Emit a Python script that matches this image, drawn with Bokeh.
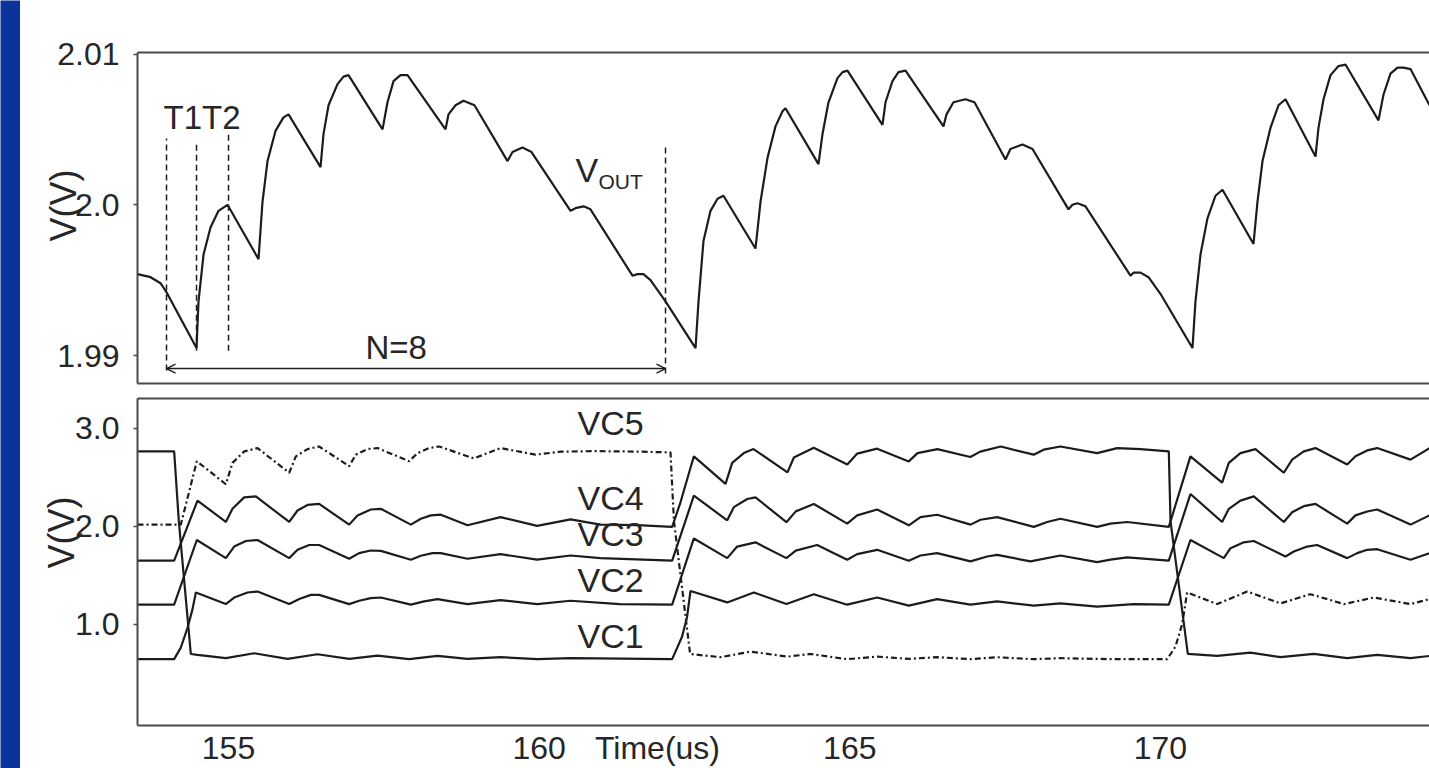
from bokeh.plotting import figure
from bokeh.models import Range1d, FixedTicker, LinearAxis, Label, Arrow, OpenHead, Title
from bokeh.layouts import row, column
from bokeh.embed import file_html
from bokeh.resources import INLINE

# ---------------- data ----------------
# output voltage (time in us, volts)
vout = [
    (153.535, 1.9954), (153.745, 1.9952), (153.906, 1.9948), (154.002, 1.9942), (154.485, 1.9905),
    (154.517, 1.9936), (154.598, 1.9967), (154.710, 1.9985), (154.839, 1.9996), (154.984, 2.0000),
    (155.483, 1.9964), (155.547, 2.0002), (155.628, 2.0029), (155.756, 2.0049), (155.885, 2.0058),
    (155.966, 2.0060), (156.481, 2.0025), (156.529, 2.0047), (156.610, 2.0066), (156.754, 2.0080),
    (156.851, 2.0085), (156.931, 2.0086), (157.479, 2.0050), (157.559, 2.0068), (157.656, 2.0082),
    (157.768, 2.0086), (157.881, 2.0086), (158.493, 2.0050), (158.541, 2.0060), (158.654, 2.0066),
    (158.782, 2.0069), (158.959, 2.0066), (159.491, 2.0029), (159.571, 2.0035), (159.732, 2.0038),
    (159.877, 2.0035), (160.505, 1.9996), (160.601, 1.9998), (160.714, 1.9999), (160.826, 1.9997),
    (161.502, 1.9953), (161.583, 1.9954), (161.679, 1.9954), (161.792, 1.9950), (162.034, 1.9936),
    (162.517, 1.9905), (162.565, 1.9936), (162.645, 1.9976), (162.758, 1.9996), (162.871, 2.0004),
    (162.967, 2.0006), (163.482, 1.9971), (163.563, 2.0002), (163.675, 2.0031), (163.804, 2.0052),
    (163.917, 2.0062), (163.965, 2.0064), (164.496, 2.0027), (164.561, 2.0047), (164.657, 2.0068),
    (164.802, 2.0084), (164.883, 2.0088), (164.963, 2.0089), (165.526, 2.0053), (165.575, 2.0068),
    (165.687, 2.0082), (165.784, 2.0088), (165.897, 2.0089), (166.508, 2.0052), (166.557, 2.0060),
    (166.669, 2.0068), (166.862, 2.0070), (167.007, 2.0068), (167.506, 2.0030), (167.586, 2.0037),
    (167.780, 2.0040), (167.941, 2.0037), (168.520, 1.9997), (168.584, 2.0000), (168.665, 2.0001),
    (168.794, 1.9999), (169.518, 1.9953), (169.566, 1.9955), (169.679, 1.9955), (169.808, 1.9952),
    (170.000, 1.9941), (170.516, 1.9905), (170.564, 1.9936), (170.645, 1.9967), (170.757, 1.9991),
    (170.886, 2.0006), (170.999, 2.0010), (171.498, 1.9974), (171.562, 2.0002), (171.643, 2.0029),
    (171.771, 2.0051), (171.900, 2.0066), (172.013, 2.0070), (172.496, 2.0032), (172.544, 2.0051),
    (172.625, 2.0070), (172.738, 2.0086), (172.866, 2.0092), (172.978, 2.0093), (173.510, 2.0056),
    (173.590, 2.0073), (173.703, 2.0087), (173.816, 2.0091), (173.912, 2.0091), (174.025, 2.0090),
    (174.331, 2.0066),
]

# capacitor voltages: each trace follows one capacitor through the rotations
cap_a = [  # dashed: VC4 -> VC5 -> VC1 -> VC2
    (153.535, 2.015), (154.232, 2.015), (154.490, 2.662),
    (154.957, 2.427), (155.064, 2.645), (155.252, 2.762), (155.467, 2.796), (155.977, 2.544),
    (156.084, 2.712), (156.272, 2.786), (156.459, 2.812), (156.942, 2.611), (157.049, 2.729),
    (157.237, 2.786), (157.398, 2.796), (157.908, 2.662), (158.042, 2.745), (158.230, 2.796),
    (158.391, 2.812), (158.950, 2.690), (159.378, 2.796), (159.941, 2.729), (160.344, 2.759),
    (160.880, 2.765), (161.578, 2.760), (162.114, 2.752),
    (162.170, 2.050), (162.430, 0.695),
    (162.919, 0.662), (163.402, 0.719), (164.000, 0.668), (164.367, 0.695), (164.958, 0.642),
    (165.441, 0.668), (165.950, 0.645), (166.407, 0.662), (166.943, 0.642), (167.372, 0.662),
    (167.962, 0.642), (168.391, 0.652), (169.196, 0.642), (170.108, 0.642),
    (170.242, 0.770), (170.350, 1.000), (170.430, 1.322),
    (170.913, 1.204), (171.396, 1.332), (171.932, 1.211), (172.416, 1.305), (172.952, 1.204),
    (173.435, 1.271), (174.025, 1.204), (174.331, 1.255),
]
cap_b = [  # VC5 -> VC1 -> VC2 -> VC3
    (153.535, 2.762), (154.125, 2.762), (154.200, 2.050), (154.393, 0.695),
    (154.501, 0.685), (154.957, 0.652), (155.413, 0.702), (155.950, 0.645), (156.432, 0.692),
    (156.942, 0.645), (157.398, 0.678), (157.908, 0.642), (158.364, 0.675), (158.847, 0.645),
    (159.378, 0.662), (159.968, 0.642), (160.505, 0.652), (162.141, 0.642),
    (162.300, 0.870), (162.380, 1.070), (162.436, 1.338),
    (163.027, 1.221), (163.456, 1.322), (163.980, 1.204), (164.421, 1.305), (164.958, 1.198),
    (165.441, 1.271), (165.950, 1.188), (166.407, 1.255), (166.943, 1.198), (167.372, 1.231),
    (167.962, 1.188), (168.391, 1.211), (168.982, 1.178), (169.572, 1.204), (170.135, 1.198),
    (170.483, 1.858),
    (171.020, 1.673), (171.128, 1.774), (171.342, 1.834), (171.503, 1.848), (172.013, 1.690),
    (172.147, 1.740), (172.362, 1.791), (172.523, 1.807), (173.006, 1.673), (173.167, 1.724),
    (173.328, 1.758), (173.489, 1.764), (174.025, 1.657), (174.331, 1.724),
]
cap_c = [  # VC1 -> VC2 -> VC3 -> VC4
    (153.535, 0.642), (154.125, 0.642), (154.232, 0.760), (154.339, 0.960), (154.420, 1.150),
    (154.474, 1.322),
    (154.957, 1.204), (155.091, 1.271), (155.306, 1.322), (155.467, 1.332), (155.977, 1.204),
    (156.138, 1.255), (156.325, 1.298), (156.459, 1.298), (156.942, 1.204), (157.103, 1.238),
    (157.290, 1.265), (157.452, 1.271), (157.935, 1.198), (158.149, 1.231), (158.364, 1.255),
    (158.847, 1.204), (159.378, 1.245), (159.968, 1.204), (160.505, 1.238), (161.300, 1.204),
    (162.141, 1.198),
    (162.490, 1.874),
    (163.027, 1.673), (163.188, 1.791), (163.482, 1.834), (163.980, 1.673), (164.130, 1.750),
    (164.475, 1.807), (164.958, 1.657), (165.119, 1.714), (165.441, 1.758), (165.950, 1.647),
    (166.138, 1.700), (166.407, 1.724), (166.943, 1.640), (167.211, 1.690), (167.372, 1.707),
    (167.908, 1.640), (168.391, 1.700), (168.982, 1.633), (169.196, 1.657), (169.465, 1.680),
    (170.135, 1.647),
    (170.483, 2.327),
    (170.993, 2.042), (171.101, 2.176), (171.288, 2.260), (171.503, 2.303), (171.986, 2.042),
    (172.120, 2.142), (172.308, 2.203), (172.496, 2.226), (173.006, 2.025), (173.140, 2.109),
    (173.328, 2.149), (173.489, 2.169), (174.025, 2.015), (174.331, 2.109),
]
cap_d = [  # VC2 -> VC3 -> VC4 -> VC5
    (153.535, 1.198), (154.125, 1.198), (154.490, 1.858),
    (154.957, 1.673), (155.091, 1.791), (155.279, 1.848), (155.467, 1.858), (155.977, 1.673),
    (156.111, 1.758), (156.298, 1.807), (156.459, 1.807), (156.942, 1.667), (157.103, 1.724),
    (157.290, 1.751), (157.452, 1.747), (157.935, 1.657), (158.096, 1.697), (158.283, 1.724),
    (158.417, 1.724), (158.847, 1.667), (159.378, 1.714), (159.968, 1.657), (160.505, 1.700),
    (160.987, 1.673), (162.141, 1.647),
    (162.490, 2.310),
    (163.027, 2.059), (163.134, 2.193), (163.349, 2.276), (163.482, 2.293), (163.980, 2.040),
    (164.130, 2.150), (164.421, 2.226), (164.958, 2.025), (165.119, 2.109), (165.441, 2.169),
    (165.950, 2.008), (166.138, 2.092), (166.407, 2.116), (166.943, 2.015), (167.104, 2.065),
    (167.372, 2.092), (167.962, 1.992), (168.177, 2.042), (168.391, 2.075), (168.982, 1.992),
    (169.196, 2.025), (169.465, 2.042), (170.135, 1.992),
    (170.483, 2.712),
    (170.993, 2.444), (171.101, 2.645), (171.288, 2.745), (171.530, 2.786), (171.986, 2.544),
    (172.120, 2.678), (172.308, 2.762), (172.496, 2.796), (173.006, 2.628), (173.140, 2.712),
    (173.328, 2.772), (173.489, 2.796), (174.025, 2.678), (174.331, 2.796),
]
cap_e = [  # VC3 -> VC4 -> VC5 -> VC1
    (153.535, 1.647), (154.125, 1.647), (154.501, 2.260),
    (154.957, 2.042), (155.064, 2.176), (155.252, 2.293), (155.440, 2.303), (155.977, 2.042),
    (156.111, 2.159), (156.272, 2.216), (156.459, 2.226), (156.942, 2.015), (157.076, 2.109),
    (157.290, 2.169), (157.452, 2.176), (157.935, 2.015), (158.096, 2.075), (158.257, 2.109),
    (158.417, 2.116), (158.847, 2.008), (159.378, 2.092), (159.968, 2.002), (160.505, 2.069),
    (160.987, 2.015), (161.578, 2.010), (162.141, 1.992),
    (162.275, 2.243), (162.490, 2.712),
    (163.000, 2.430), (163.107, 2.645), (163.295, 2.745), (163.450, 2.786), (163.997, 2.548),
    (164.100, 2.700), (164.420, 2.799), (164.960, 2.628), (165.120, 2.740), (165.440, 2.790),
    (165.950, 2.660), (166.090, 2.745), (166.410, 2.786), (166.940, 2.705), (167.100, 2.760),
    (167.430, 2.812), (167.960, 2.729), (168.120, 2.780), (168.390, 2.812), (168.980, 2.745),
    (169.304, 2.796), (169.679, 2.786), (170.135, 2.762),
    (170.162, 2.050), (170.441, 0.695),
    (170.913, 0.675), (171.449, 0.709), (171.932, 0.662), (172.469, 0.695), (173.006, 0.652),
    (173.489, 0.685), (174.025, 0.652), (174.331, 0.675),
]

# vertical dashed markers (T1, T2 and cycle bounds) in the top panel
marker_t = [154.002, 154.485, 155.000, 162.034]
marker_top = [2.00439, 2.00419, 2.00465, 2.00386]
marker_bot = [1.98901, 1.99033, 1.99033, 1.98881]
span_t = [154.002, 162.034]   # N=8 arrow
span_v = 1.98914

time_ticks = [155, 160, 161.905, 165, 170]
time_labels = ["155", "160", "Time(us)", "165", "170"]
vout_ticks = [1.99, 2.0, 2.01]
vout_labels = ["1.99", "2.0", "2.01"]
vc_ticks = [1.0, 2.0, 3.0]
vc_labels = ["1.0", "2.0", "3.0"]

vc_names = ["VC5", "VC4", "VC3", "VC2", "VC1"]
vc_name_y = [2.859, 2.095, 1.724, 1.251, 0.688]

# ---------------- style ----------------
FONT = "Liberation Sans"
INK = "#1c1c1c"
TXT = "#262626"
FRAME = "#4a4a4a"
BLUE = "#0b349b"
X0, X1 = 153.535, 174.331


def unzip(pairs):
    return [p[0] for p in pairs], [p[1] for p in pairs]


def bare_axis(ax):
    ax.ticker = FixedTicker(ticks=[])
    ax.axis_line_color = FRAME
    ax.axis_line_width = 2
    ax.major_tick_in = 0
    ax.major_tick_out = 0
    ax.minor_tick_line_color = None
    ax.major_tick_line_color = None
    ax.major_label_standoff = 0


def style_panel(p, yticks, ylabels, show_x, title_standoff, title_offset):
    p.grid.visible = False
    p.outline_line_color = None
    yax = p.yaxis[0]
    yax.axis_line_color = FRAME
    yax.axis_line_width = 2
    yax.minor_tick_line_color = None
    yax.major_tick_line_color = FRAME
    yax.major_tick_line_width = 1.5
    yax.major_label_text_font = FONT
    yax.major_label_text_color = TXT
    yax.major_label_text_font_size = "32px"
    yax.ticker = FixedTicker(ticks=yticks)
    yax.major_label_overrides = {t: l for t, l in zip(yticks, ylabels)}
    yax.major_tick_out = 4
    yax.major_tick_in = 0
    yax.major_label_standoff = 14
    xax = p.xaxis[0]
    if show_x:
        xax.ticker = FixedTicker(ticks=time_ticks)
        xax.major_label_overrides = {t: l for t, l in zip(time_ticks, time_labels)}
        xax.axis_line_color = FRAME
        xax.axis_line_width = 2
        xax.minor_tick_line_color = None
        xax.major_tick_line_color = None
        xax.major_tick_out = 0
        xax.major_tick_in = 0
        xax.major_label_standoff = 4
        xax.major_label_text_font = FONT
        xax.major_label_text_color = TXT
        xax.major_label_text_font_size = "32px"
    else:
        bare_axis(xax)
    top = LinearAxis()
    bare_axis(top)
    p.add_layout(top, "above")
    ttl = Title(text="V(V)", align="left", offset=title_offset, text_font=FONT,
                text_font_size="36px", text_font_style="normal", text_color=TXT)
    if "standoff" in Title.properties():
        ttl.standoff = title_standoff
    p.add_layout(ttl, "left")


def text_label(p, x, y, txt, size, **kw):
    p.add_layout(Label(x=x, y=y, text=txt, text_font=FONT, text_font_size=size,
                       text_color=TXT, **kw))


strip = figure(width=20, height=768, toolbar_location=None, output_backend="svg",
               min_border=0, x_range=(0, 1), y_range=(0, 1),
               background_fill_color=BLUE, border_fill_color=BLUE, outline_line_color=None)
strip.axis.visible = False
strip.grid.visible = False

# ---------------- top panel: Vout ----------------
p1 = figure(width=1409, height=391, x_range=Range1d(X0, X1), y_range=Range1d(1.98815, 2.0101),
            toolbar_location=None, output_backend="svg",
            min_border_left=117, min_border_right=0, min_border_top=52, min_border_bottom=8,
            background_fill_color="white", border_fill_color="white")
style_panel(p1, vout_ticks, vout_labels, show_x=False, title_standoff=-58, title_offset=142)

vt, vv = unzip(vout)
p1.line(vt, vv, line_width=2.2, color=INK)
p1.segment(x0=marker_t, y0=marker_bot, x1=marker_t, y1=marker_top,
           line_dash="6 4", line_width=1.5, color=INK)
p1.add_layout(Arrow(x_start=span_t[0], y_start=span_v, x_end=span_t[1], y_end=span_v,
                    line_width=1.6, line_color=INK,
                    start=OpenHead(size=9, line_width=1.4, line_color=INK),
                    end=OpenHead(size=9, line_width=1.4, line_color=INK)))
text_label(p1, 153.954, 2.00459, "T1T2", "33px")
text_label(p1, 157.205, 1.98934, "N=8", "33px")
text_label(p1, 160.585, 2.00102, "V", "34px")
text_label(p1, 160.955, 2.00076, "OUT", "21px")

# ---------------- bottom panel: capacitor voltages ----------------
p2 = figure(width=1409, height=377, x_range=p1.x_range, y_range=Range1d(-0.035, 3.302),
            toolbar_location=None, output_backend="svg",
            min_border_left=117, min_border_right=0, min_border_top=7, min_border_bottom=38,
            background_fill_color="white", border_fill_color="white")
style_panel(p2, vc_ticks, vc_labels, show_x=True, title_standoff=-18, title_offset=157)

for trace in [cap_b, cap_c, cap_d, cap_e]:
    tt, vv2 = unzip(trace)
    p2.line(tt, vv2, line_width=2.2, color=INK)
ta, va = unzip(cap_a)
p2.line(ta, va, line_width=2.2, color=INK, line_dash="6 3 2 3")

for name, yv in zip(vc_names, vc_name_y):
    text_label(p2, 160.617, yv, name, "34px")

layout = row(strip, column(p1, p2))
open("out.html", "w").write(file_html(layout, INLINE))
